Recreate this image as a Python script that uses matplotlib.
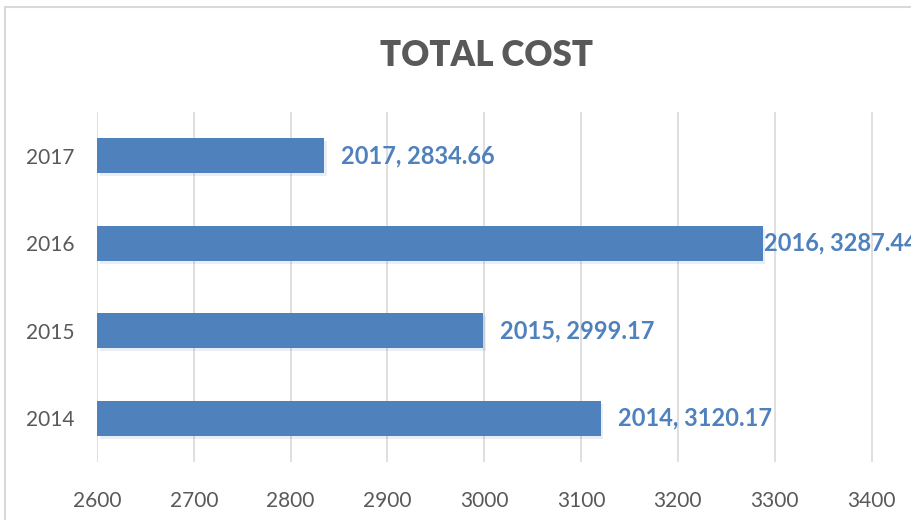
import matplotlib
matplotlib.use('Agg')
import matplotlib.pyplot as plt
from matplotlib.patches import Rectangle
import matplotlib.patheffects as pe

years = ['2014', '2015', '2016', '2017']
costs = [3120.17, 2999.17, 3287.44, 2834.66]
x_ticks = [2600, 2700, 2800, 2900, 3000, 3100, 3200, 3300, 3400]

BLUE = '#4F81BD'
GREY = '#595959'
GRID = '#D9D9D9'

plt.rcParams['font.family'] = ['Lato', 'DejaVu Sans']

fig = plt.figure(figsize=(9.12, 5.2), dpi=100)
# chart area border (cropped at right/bottom like the screenshot)
fig.patches.append(Rectangle((5 / 912, -0.1), 1.2, 1 - 7 / 520 + 0.1,
                             transform=fig.transFigure, fill=False,
                             edgecolor=GRID, linewidth=1.5))

ax = fig.add_axes([97 / 912, 1 - 462 / 520, 1 - 97 / 912, (462 - 112) / 520])
ypos = list(range(len(years)))
shadow = [pe.SimplePatchShadow(offset=(2, -2), alpha=0.12, rho=0.9), pe.Normal()]
bars = ax.barh(ypos, [c - 2600 for c in costs], left=2600, height=0.4,
               color=BLUE, zorder=3, path_effects=shadow)

ax.set_xlim(2600, 3441.8)
ax.set_ylim(-0.5, 3.5)
ax.set_xticks(x_ticks)
ax.set_yticks(ypos)
ax.set_yticklabels(years)
ax.tick_params(length=0, labelsize=15, colors=GREY)
ax.tick_params(axis='x', pad=21)
ax.tick_params(axis='y', pad=16)
ax.grid(axis='x', color=GRID, linewidth=1.2, zorder=0)
for s in ax.spines.values():
    s.set_visible(False)

for y, yr, c in zip(ypos, years, costs):
    off = 1 if c > 3250 else 17
    ax.annotate('%s, %.2f' % (yr, c), xy=(c, y), xytext=(off, 0),
                textcoords='offset pixels', va='center', ha='left',
                fontsize=17, fontweight='bold', color=BLUE, zorder=4,
                annotation_clip=False)

fig.text(486 / 912, 1 - 55 / 520, 'TOTAL COST', ha='center', va='center',
         fontsize=25, fontweight='heavy', color=GREY)

fig.savefig('out.png', dpi=100)
